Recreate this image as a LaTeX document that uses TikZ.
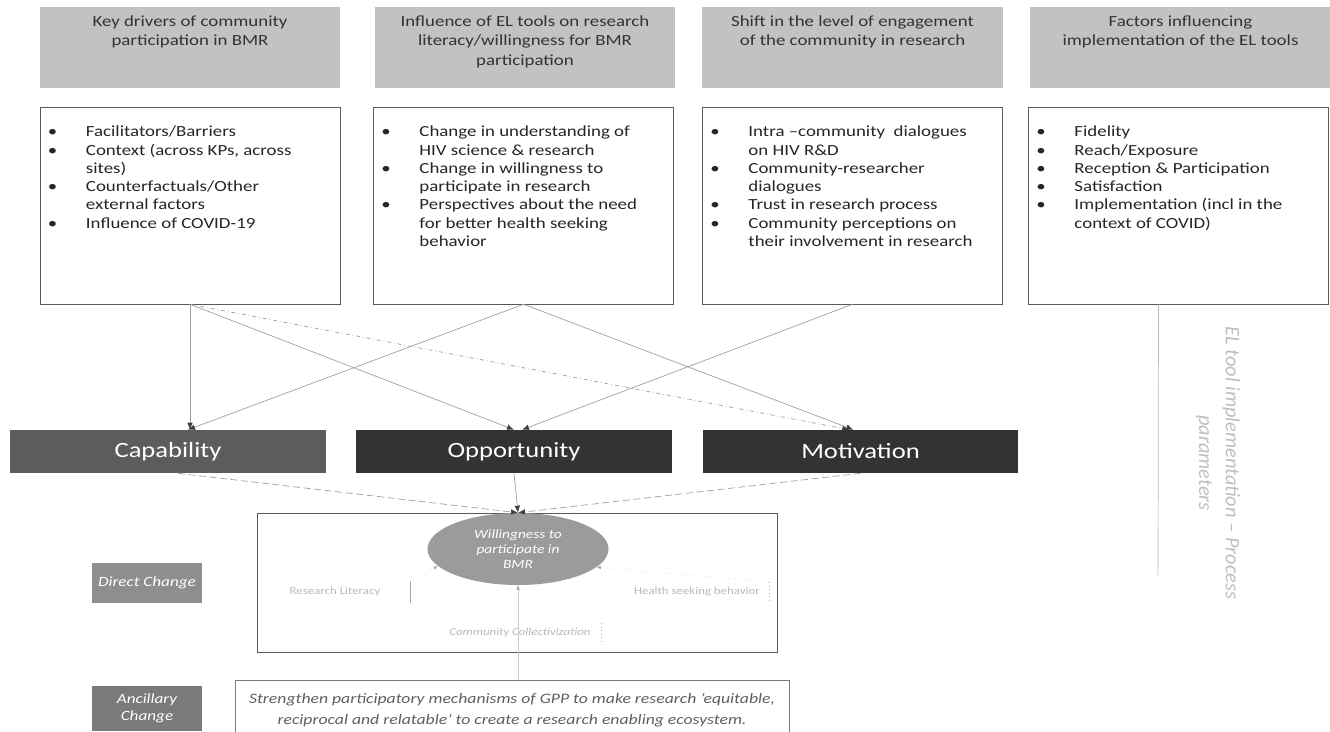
\documentclass[tikz,border=0pt]{standalone}
\usepackage{fontspec}
\setmainfont{Carlito}[FakeStretch=1.22]
\newfontfamily\rotfont{Carlito}
\usepackage{enumitem}
\usetikzlibrary{arrows.meta,positioning,shapes.geometric}

\definecolor{hdrgray}{HTML}{C2C2C2}
\definecolor{hdrtext}{HTML}{333333}
\definecolor{boxline}{HTML}{5A5A5A}
\definecolor{capgray}{HTML}{5C5C5C}
\definecolor{comdark}{HTML}{333333}
\definecolor{willgray}{HTML}{9B9B9B}
\definecolor{dirgray}{HTML}{8E8E8E}
\definecolor{ancgray}{HTML}{7A7A7A}
\definecolor{linkgray}{HTML}{A0A0A0}
\definecolor{gpptext}{HTML}{606060}

\newcommand{\hdrtext}[1]{\parbox[t][1.6cm][t]{7.1cm}{\centering #1}}
\newcommand{\itemtext}[1]{\parbox[t][3.975cm][t]{7.1cm}{\raggedright
  \begin{itemize}[leftmargin=0.95cm,labelwidth=0.95cm,labelsep=0pt,align=left,
    itemsep=0pt,parsep=0pt,topsep=0pt,partopsep=0pt]#1\end{itemize}}}

\begin{document}
\begin{tikzpicture}[
    x=0.025cm, y=-0.025cm,
    every node/.style={font=\fontsize{11}{13}\selectfont},
    hdr/.style={fill=hdrgray,minimum width=7.5cm,minimum height=2.025cm,
                inner xsep=0.2cm,inner ysep=0.2125cm,text=hdrtext,
                font=\fontsize{11}{14}\selectfont},
    itembox/.style={draw=boxline,fill=white,minimum width=7.5cm,minimum height=4.925cm,
                inner xsep=0.2cm,inner ysep=0.475cm,text=black!85},
    combox/.style={fill=comdark,minimum width=7.88cm,minimum height=1.075cm,
                text=white,font=\fontsize{15.5}{17}\selectfont},
    tagbox/.style={minimum width=2.75cm,minimum height=1cm,align=center,text=white,
                font=\itshape\fontsize{10}{12}\selectfont},
    minor/.style={inner sep=0pt,text=gray!55,font=\fontsize{7.5}{9}\selectfont},
    link/.style={draw=linkgray,line width=0.5pt,-{Latex[length=5pt,width=4pt,color=black!75]}},
    faint/.style={draw=gray!40,line width=0.4pt,dotted,-{Latex[length=3pt,width=2.5pt,color=gray!70]}},
    sepbar/.style={draw=gray!70,line width=0.5pt},
    longdash/.style={dash pattern=on 5pt off 2.5pt}
]
\useasboundingbox (0,0) rectangle (1330,731);
\fill[white] (0,0) rectangle (1330,731);

% Header row
\node[hdr] (H1) at (190,47.5) {\hdrtext{Key drivers of community\\participation in BMR}};
\node[hdr] (H2) at (525,47.5) {\hdrtext{Influence of EL tools on research\\literacy/willingness for BMR\\participation}};
\node[hdr] (H3) at (852.5,47.5) {\hdrtext{Shift in the level of engagement\\of the community in research}};
\node[hdr] (H4) at (1180.5,47.5) {\hdrtext{Factors influencing\\implementation of the EL tools}};

% Bullet boxes
\node[itembox] (B1) at (190,205.5) {\itemtext{%
  \item Facilitators/Barriers
  \item Context (across KPs, across\newline sites)
  \item Counterfactuals/Other\newline external factors
  \item Influence of COVID-19}};
\node[itembox] (B2) at (523.5,205.5) {\itemtext{%
  \item Change in understanding of\newline HIV science \& research
  \item Change in willingness to\newline participate in research
  \item Perspectives about the need\newline for better health seeking\newline behavior}};
\node[itembox] (B3) at (852.5,205.5) {\itemtext{%
  \item Intra –community\ \ dialogues\newline on HIV R\&D
  \item Community-researcher\newline dialogues
  \item Trust in research process
  \item Community perceptions on\newline their involvement in research}};
\node[itembox] (B4) at (1178.5,205.5) {\itemtext{%
  \item Fidelity
  \item Reach/Exposure
  \item Reception \& Participation
  \item Satisfaction
  \item Implementation (incl in the\newline context of COVID)}};

% COM-B row
\node[combox,fill=capgray] (Cap) at (168,451.5) {Capability};
\node[combox] (Opp) at (514,451.5) {Opportunity};
\node[combox] (Mot) at (860.5,451.5) {Motivation};

\draw[link] (B1.south) -- (B1.south |- Cap.north);
\draw[link] (B1.south) -- (Opp.north);
\draw[link,dashdotted] (B1.south) -- ([xshift=-0.28cm]Mot.north);
\draw[link] (B2.south) -- ([xshift=0.5cm]Cap.north);
\draw[link] (B2.south) -- ([xshift=-0.18cm]Mot.north);
\draw[link] (B3.south) -- ([xshift=0.2cm]Opp.north);

% Direct change
\node[draw=boxline,minimum width=13cm,minimum height=3.475cm] (DC) at (517,582.5) {};
\node[ellipse,fill=willgray,minimum width=4.525cm,minimum height=1.8cm,inner sep=0pt,
      align=center,text=white,font=\itshape\fontsize{9}{10.5}\selectfont] (Will) at (518,549)
      {Willingness to\\participate in\\BMR};
\node[tagbox,fill=dirgray] (Dir) at (147,583) {Direct Change};

\draw[link,longdash] ([xshift=0.25cm]Cap.south) -- (Will.north);
\draw[link] (Opp.south) -- (Will.north);
\draw[link,longdash] (Mot.south) -- (Will.north);

\node[minor] (RL) at (335,592) {Research Literacy};
\node[minor] (HS) at (697,592) {Health seeking behavior};
\node[minor,font=\itshape\fontsize{7.5}{9}\selectfont] (CC) at (520,633) {Community Collectivization};
\draw[sepbar] (RL.east) ++(30,-11) -- ++(0,22);
\draw[sepbar,dotted] (HS.east) ++(9,-10) -- ++(0,21);
\draw[sepbar,dotted] (CC.east) ++(10,-10) -- ++(0,21);
\draw[faint] (RL.east) ++(30,-11) -- (Will.192);
\draw[faint] (HS.east) ++(9,-10) -- (Will.347);

% Ancillary change
\node[tagbox,fill=ancgray,minimum height=1.125cm] (Anc) at (147,708.5) {Ancillary\\Change};
\node[draw=boxline!80,minimum width=13.85cm,minimum height=1.5cm,align=center,text=gpptext,
      font=\itshape\fontsize{10.3}{15}\selectfont] (GPP) at (512,710)
      {Strengthen participatory mechanisms of GPP to make research 'equitable,\\
       reciprocal and relatable' to create a research enabling ecosystem.};
\draw[faint,solid] (Will.south |- GPP.north) -- (Will.south);

% Process parameters
\coordinate (ELfoot) at (1158,575);
\draw[draw=gray!55,line width=0.5pt] ([xshift=-0.5cm]B4.south) -- (ELfoot);
\node[rotate=-90,align=center,text=gray!50,font=\rotfont\itshape\fontsize{14.5}{19}\selectfont]
      (EL) at (1218,463) {EL tool implementation – Process\\parameters};

\end{tikzpicture}
\end{document}
